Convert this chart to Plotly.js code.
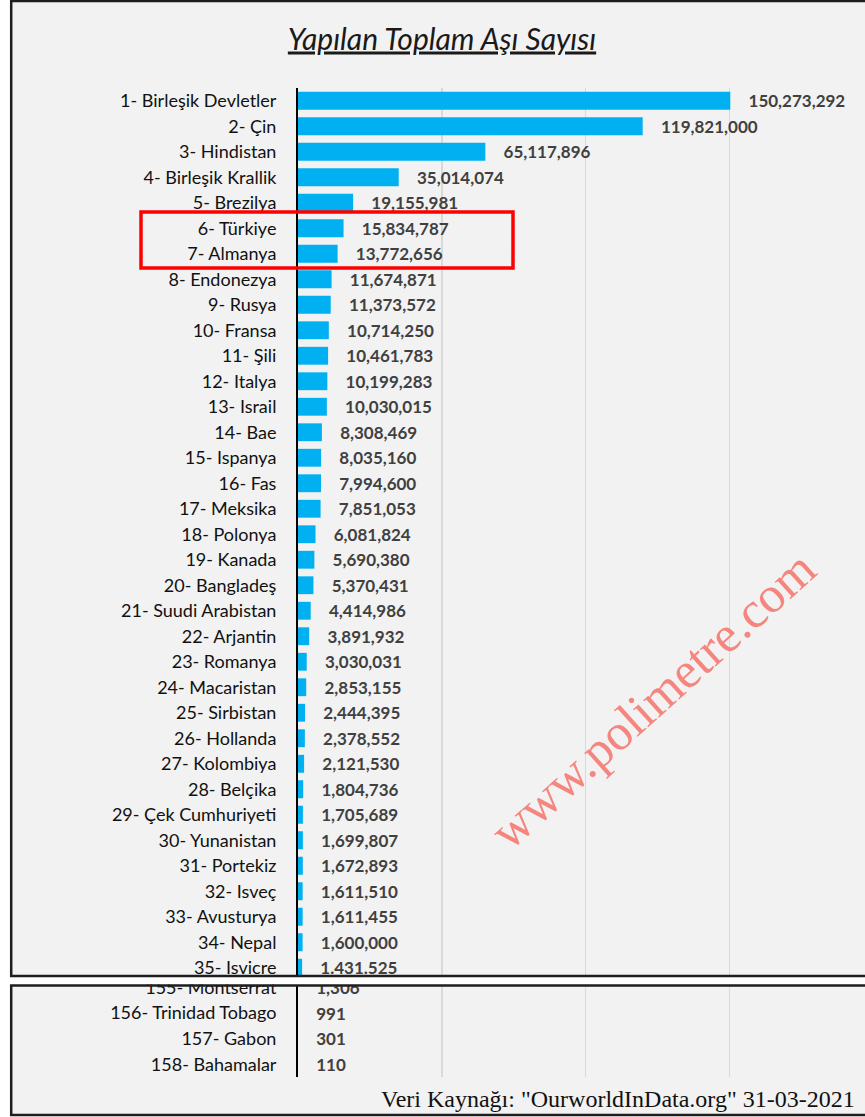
<!DOCTYPE html>
<html>
<head>
<meta charset="utf-8">
<script src="https://cdn.plot.ly/plotly-3.0.1.min.js"></script>
<style>html,body{margin:0;padding:0;background:#fff;}</style>
</head>
<body>
<div id="chart" style="width:865px;height:1117px;"></div>
<script>
// ---- data ----
var topCountries = [
  "1- Birleşik Devletler","2- Çin","3- Hindistan","4- Birleşik Krallik","5- Brezilya",
  "6- Türkiye","7- Almanya","8- Endonezya","9- Rusya","10- Fransa",
  "11- Şili","12- Italya","13- Israil","14- Bae","15- Ispanya",
  "16- Fas","17- Meksika","18- Polonya","19- Kanada","20- Bangladeş",
  "21- Suudi Arabistan","22- Arjantin","23- Romanya","24- Macaristan","25- Sirbistan",
  "26- Hollanda","27- Kolombiya","28- Belçika","29- Çek Cumhuriyeti","30- Yunanistan",
  "31- Portekiz","32- Isveç","33- Avusturya","34- Nepal","35- Isvicre"
];
var topValues = [
  150273292,119821000,65117896,35014074,19155981,
  15834787,13772656,11674871,11373572,10714250,
  10461783,10199283,10030015,8308469,8035160,
  7994600,7851053,6081824,5690380,5370431,
  4414986,3891932,3030031,2853155,2444395,
  2378552,2121530,1804736,1705689,1699807,
  1672893,1611510,1611455,1600000,1431525
];
var bottomCountries = ["155- Montserrat","156- Trinidad Tobago","157- Gabon","158- Bahamalar"];
var bottomValues = [1306, 991, 301, 110];

var titleText = "Yapılan Toplam Aşı Sayısı";
var sourceText = 'Veri Kaynağı: "OurworldInData.org" 31-03-2021';
var watermarkText = "www.polimetre.com";

// ---- helpers ----
var W = 865, H = 1117;
function py(p){ return 1 - p / H; }
function px(p){ return p / W; }
function fmt(v){ return v.toLocaleString('en-US'); }
var topLabels = topValues.map(fmt);
topLabels[34] = topLabels[34].replace(/,/g, '.');   // shown with dots in the source
var bottomLabels = bottomValues.map(fmt);

var FONT = "Lato, 'Open Sans', sans-serif";
var pad = "\u00a0\u00a0\u00a0\u2006";

var barStyle = {
  type: 'bar', orientation: 'h',
  marker: {color: '#00b0f0', line: {width: 0}},
  textposition: 'outside',
  texttemplate: pad + '%{text}',
  textfont: {family: FONT, size: 17, color: '#404040', weight: 'bold'},
  constraintext: 'none',
  cliponaxis: true,
  hoverinfo: 'x+y'
};

var traces = [
  Object.assign({}, barStyle, {x: topValues, y: topCountries, text: topLabels, xaxis: 'x', yaxis: 'y'}),
  Object.assign({}, barStyle, {x: bottomValues, y: bottomCountries, text: bottomLabels, xaxis: 'x2', yaxis: 'y2'})
];

var xMax = 197.1e6;
var xCommon = {
  range: [0, xMax], showgrid: true, gridcolor: '#d9d9d9', gridwidth: 1.5,
  dtick: 50e6, tick0: 0, showticklabels: false, zeroline: false, showline: false, fixedrange: true
};
var yCommon = {
  type: 'category', showline: true, linecolor: '#000', linewidth: 2,
  ticks: 'outside', ticklen: 16, tickcolor: 'rgba(0,0,0,0)',
  tickfont: {family: FONT, size: 18, color: '#111'}, showgrid: false, zeroline: false, fixedrange: true
};

var layout = {
  width: W, height: H,
  margin: {l: 0, r: 0, t: 0, b: 0},
  paper_bgcolor: '#ffffff', plot_bgcolor: 'rgba(0,0,0,0)',
  showlegend: false,
  bargap: 0.3,
  title: {
    text: titleText, x: px(442), xanchor: 'center', y: py(39), yanchor: 'middle',
    font: {family: FONT, size: 30, color: '#1a1a1a', style: 'italic', lineposition: 'under'}
  },
  xaxis: Object.assign({}, xCommon, {domain: [px(298), 1], anchor: 'y'}),
  yaxis: Object.assign({}, yCommon, {domain: [py(980.5), py(88)], range: [34.5, -0.5], categoryarray: topCountries, categoryorder: 'array', anchor: 'x'}),
  xaxis2: Object.assign({}, xCommon, {domain: [px(298), 1], anchor: 'y2'}),
  yaxis2: Object.assign({}, yCommon, {domain: [py(1077), py(985)], range: [3.5, -0.1], categoryarray: bottomCountries, categoryorder: 'array', anchor: 'x2'}),
  shapes: [
    // panel backgrounds
    {type: 'rect', xref: 'paper', yref: 'paper', x0: px(10), x1: 1.02, y0: py(976), y1: 1.01, fillcolor: '#f2f2f2', line: {width: 0}, layer: 'below'},
    {type: 'rect', xref: 'paper', yref: 'paper', x0: px(10), x1: 1.02, y0: py(1116), y1: py(985), fillcolor: '#f2f2f2', line: {width: 0}, layer: 'below'},
    // white gap between the two panels
    {type: 'rect', xref: 'paper', yref: 'paper', x0: -0.01, x1: 1.02, y0: py(984.5), y1: py(977), fillcolor: '#ffffff', line: {width: 0}, layer: 'above'},
    // panel borders
    {type: 'rect', xref: 'paper', yref: 'paper', x0: px(11.2), x1: 1.05, y0: py(976), y1: py(1), fillcolor: 'rgba(0,0,0,0)', line: {color: '#1e1e1e', width: 2.5}, layer: 'above'},
    {type: 'rect', xref: 'paper', yref: 'paper', x0: px(11.2), x1: 1.05, y0: py(1115), y1: py(985.5), fillcolor: 'rgba(0,0,0,0)', line: {color: '#1e1e1e', width: 2.5}, layer: 'above'},
    // red highlight around Türkiye & Almanya
    {type: 'rect', xref: 'paper', yref: 'y', x0: px(141), x1: px(513), y0: 4.36, y1: 6.56, fillcolor: 'rgba(0,0,0,0)', line: {color: '#ff0000', width: 3.5}, layer: 'above'}
  ],
  annotations: [
    {text: sourceText, xref: 'paper', yref: 'paper', x: px(857), y: py(1099), xanchor: 'right', yanchor: 'middle', showarrow: false,
     font: {family: "'Liberation Serif', 'DejaVu Serif', serif", size: 24, color: '#111'}},
    {text: watermarkText, xref: 'paper', yref: 'paper', x: px(653), y: py(700), xanchor: 'center', yanchor: 'middle', showarrow: false,
     textangle: -42, font: {family: "'Liberation Serif', serif", size: 51, color: '#f5867f'}}
  ]
};

Plotly.newPlot('chart', traces, layout, {displayModeBar: false, staticPlot: true});
</script>
</body>
</html>
